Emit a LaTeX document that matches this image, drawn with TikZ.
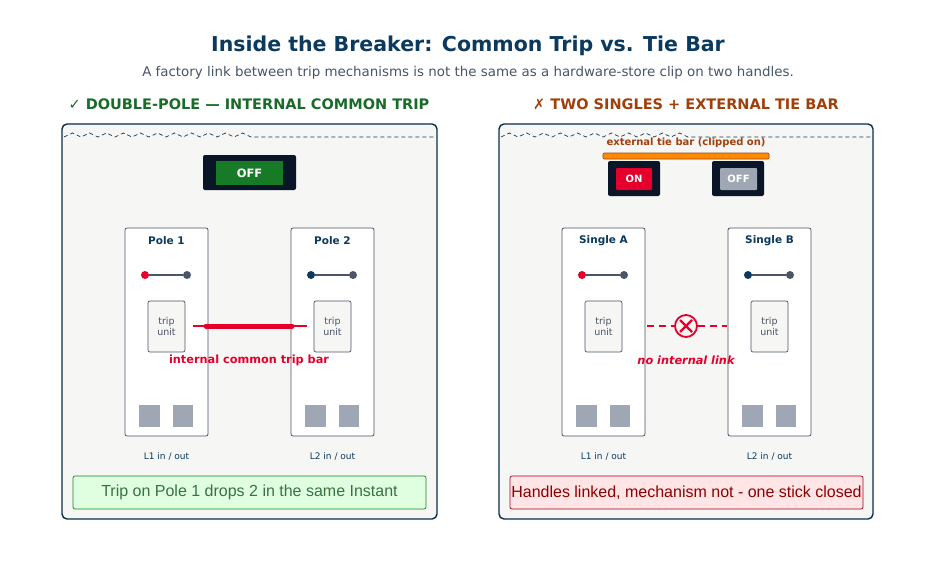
\documentclass[tikz,border=0pt]{standalone}
\usepackage{fontspec}
\setmainfont{DejaVu Sans}
\newfontfamily\arialfont{Liberation Sans}
\usetikzlibrary{positioning,decorations.pathmorphing}
\definecolor{navy}{HTML}{0B3A5E}
\definecolor{panelbg}{HTML}{F6F6F4}
\definecolor{okgreen}{HTML}{1A6B2A}
\definecolor{warnbrown}{HTML}{A0410D}
\definecolor{tripred}{HTML}{E4002B}
\definecolor{darkcase}{HTML}{0A1628}
\definecolor{slate}{HTML}{4A5568}
\definecolor{termgray}{HTML}{A0A7B4}
\tikzset{
  panel/.style={draw=navy!80!black, line width=1.4pt, fill=panelbg, rounded corners=5pt},
  polebox/.style={draw=slate, line width=0.8pt, fill=white, rounded corners=2pt},
  tripbox/.style={draw=slate, line width=0.7pt, fill=panelbg, rounded corners=2pt},
  term/.style={fill=termgray},
  handlecase/.style={fill=darkcase, rounded corners=2pt},
  dotnode/.style={circle, inner sep=0pt, minimum size=8pt},
  ptitle/.style={font=\bfseries\fontsize{10.5}{12}\selectfont, text=navy},
  small/.style={font=\fontsize{9.5}{11.5}\selectfont, text=slate},
  zig/.style={dash pattern=on 4pt off 3pt, navy, line width=0.7pt}
}
\begin{document}
\begin{tikzpicture}[x=1pt,y=-1pt]
\useasboundingbox[fill=white] (0,0) rectangle (936,562);

% titles
\node[font=\bfseries\fontsize{20.5}{24}\selectfont, text=navy] (title) at (468,46) {Inside the Breaker: Common Trip vs. Tie Bar};
\node[font=\fontsize{13.4}{16}\selectfont, text=slate] (subtitle) at (468,73) {A factory link between trip mechanisms is not the same as a hardware-store clip on two handles.};
\node[font=\bfseries\fontsize{14.5}{16}\selectfont, text=okgreen] (headL) at (249,104) {✓ DOUBLE-POLE — INTERNAL COMMON TRIP};
\node[font=\bfseries\fontsize{14.5}{16}\selectfont, text=warnbrown] (headR) at (686,104) {✗ TWO SINGLES + EXTERNAL TIE BAR};

% panels
\draw[panel] (62,124) rectangle (437,519);
\draw[panel] (499,124) rectangle (873,519);
\draw[zig] (64,137) \foreach \k in {0,...,10} {-- ++(8.5,-4) -- ++(8.5,4)} -- (435,137);
\draw[zig] (501,137) \foreach \k in {0,...,10} {-- ++(8.5,-4) -- ++(8.5,4)} -- (871,137);

% left handle
\fill[handlecase] (203,155) rectangle (296,190);
\node[fill=okgreen!90!green, minimum width=67pt, minimum height=24pt, text=white, font=\bfseries\fontsize{11.5}{13}\selectfont] (hOff) at (249.5,173) {OFF};

% right tie bar + handles
\node[font=\bfseries\fontsize{10}{12}\selectfont, text=warnbrown] (tieLbl) at (686,143) {external tie bar (clipped on)};
\draw[fill=orange!90!yellow, draw=warnbrown, line width=0.6pt, rounded corners=1pt] (603,153) rectangle (769,159);
\fill[handlecase] (608,161) rectangle (660,196);
\node[fill=tripred, rounded corners=1pt, minimum width=36pt, minimum height=22pt, text=white, font=\bfseries\fontsize{10}{12}\selectfont] (hOn) at (634,179) {ON};
\fill[handlecase] (712,161) rectangle (764,196);
\node[fill=termgray, rounded corners=1pt, minimum width=37pt, minimum height=22pt, text=white, font=\bfseries\fontsize{10}{12}\selectfont] (hOffB) at (738.5,179) {OFF};

% pole columns
\foreach \x/\name/\lbl/\io/\dotc in {125/p1/Pole 1/L1/tripred, 291/p2/Pole 2/L2/navy, 562/sA/Single A/L1/tripred, 728/sB/Single B/L2/navy}{
  \draw[polebox] (\x,228) rectangle ++(83,208);
  \node[ptitle] (\name t) at (\x+41.5,241) {\lbl};
  \node[dotnode, fill=\dotc] (\name a) at (\x+20,275) {};
  \node[dotnode, fill=slate] (\name b) at (\x+62,275) {};
  \draw[slate, line width=1.3pt] (\name a) -- (\name b);
  \draw[tripbox] (\x+23,301) rectangle ++(37,51);
  \node[small, align=center] (\name u) at (\x+41.5,326.5) {trip\\unit};
  \fill[term] (\x+14,405) rectangle ++(21,22);
  \fill[term] (\x+48,405) rectangle ++(20,22);
  \node[font=\fontsize{9}{11}\selectfont, text=navy] (\name io) at (\x+41.5,456) {\io{} in / out};
}

% internal common trip bar
\coordinate (barL) at (193,326);
\coordinate (barR) at (307,326);
\draw[tripred, line width=2.2pt] (barL) -- (barR);
\draw[tripred, line width=5pt, line cap=round] (206,326) -- (292,326);
\node[font=\bfseries\fontsize{11.3}{13}\selectfont, text=tripred] (barLbl) at (249,360) {internal common trip bar};

% no link
\node[circle, draw=tripred, line width=1.8pt, fill=panelbg, minimum size=22pt, inner sep=0pt] (noX) at (686,326) {};
\draw[tripred, line width=2.2pt] (680,320) -- (692,332) (692,320) -- (680,332);
\coordinate (nlL) at (647,326);
\coordinate (nlR) at (727,326);
\draw[tripred, dash pattern=on 7pt off 5pt, line width=2.2pt] (nlL) -- (noX) (noX) -- (nlR);
\node[font=\bfseries\itshape\fontsize{11.3}{13}\selectfont, text=tripred] (nlLbl) at (686,360) {no internal link};

% notes
\node[draw=okgreen!80!green, fill=green!12!white, line width=0.7pt, rounded corners=2pt, minimum width=353pt, minimum height=33pt, font=\arialfont\fontsize{16}{18}\selectfont, text=okgreen!70!gray] (noteL) at (249.5,492.5) {Trip on Pole 1 drops 2 in the same Instant};
\node[draw=tripred!70!black, fill=red!10!white, line width=0.7pt, rounded corners=2pt, minimum width=353pt, minimum height=33pt, inner xsep=1pt, font=\arialfont\fontsize{16}{18}\selectfont, text=red!55!black] (noteR) at (686.5,492.5) {Handles linked, mechanism not - one stick closed};
\end{tikzpicture}
\end{document}
